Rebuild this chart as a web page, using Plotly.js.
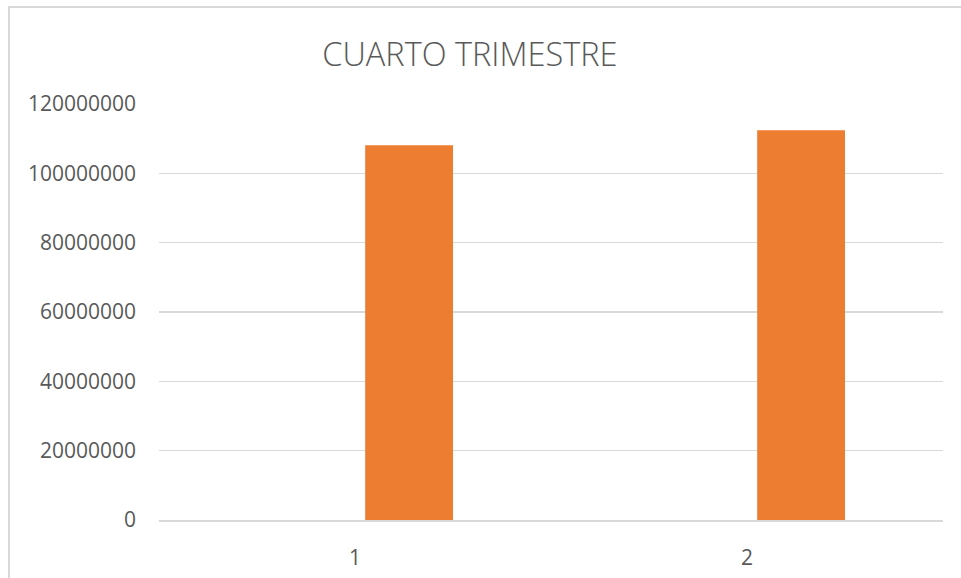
<!DOCTYPE html>
<html>
<head>
<meta charset="utf-8">
<script src="https://cdn.plot.ly/plotly-3.0.1.min.js"></script>
<style>
  html, body { margin: 0; padding: 0; background: #ffffff; overflow: hidden; }
  #frame { position: absolute; left: 8px; top: 6px; width: 1000px; height: 700px;
           border-left: 2px solid #d9d9d9; border-top: 2px solid #d9d9d9; pointer-events: none; }
  #chart { position: absolute; left: 0; top: 0; width: 961px; height: 578px; }
</style>
</head>
<body>
<div id="chart"></div>
<div id="frame"></div>
<script>
const chartTitle = "CUARTO TRIMESTRE";
const categories = ["1", "2"];
const values = [108100000, 112400000];
const yTicks = [0, 20000000, 40000000, 60000000, 80000000, 100000000, 120000000];
const yTickLabels = ["0", "20000000", "40000000", "60000000", "80000000", "100000000", "120000000"];

const trace = {
  type: "bar",
  x: categories,
  y: values,
  width: 0.224,
  offset: 0.026,
  marker: { color: "#ED7D31", line: { width: 0 } },
  hoverinfo: "x+y"
};

const layout = {
  width: 961,
  height: 578,
  margin: { l: 159, r: 18, t: 104, b: 58 },
  paper_bgcolor: "#ffffff",
  plot_bgcolor: "#ffffff",
  showlegend: false,
  title: {
    text: chartTitle,
    font: { family: "Open Sans", size: 32.5, color: "#595959", weight: 300 },
    x: 0.489, xanchor: "center",
    y: 0.906, yanchor: "middle", yref: "container"
  },
  xaxis: {
    type: "category",
    range: [-0.5, 1.5],
    showgrid: false,
    zeroline: false,
    showline: true,
    linecolor: "#d9d9d9",
    linewidth: 2,
    ticks: "",
    ticklabelstandoff: 18,
    tickfont: { family: "Open Sans", size: 21, color: "#595959" }
  },
  yaxis: {
    range: [0, 120000000],
    tickmode: "array",
    tickvals: yTicks,
    ticktext: yTickLabels,
    showgrid: true,
    gridcolor: "#d9d9d9",
    gridwidth: 1.5,
    zeroline: false,
    showline: false,
    ticks: "",
    ticklabelstandoff: 22,
    tickfont: { family: "Open Sans", size: 21, color: "#595959" }
  },
  font: { family: "Open Sans", color: "#595959" }
};

Plotly.newPlot("chart", [trace], layout, { displayModeBar: false, staticPlot: true });
</script>
</body>
</html>
